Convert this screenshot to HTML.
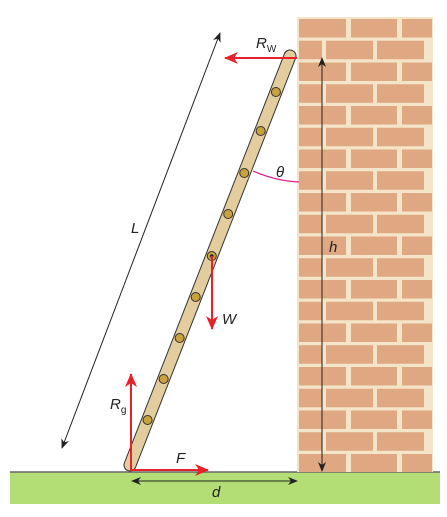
<!DOCTYPE html>
<html><head><meta charset="utf-8"><style>
html,body{margin:0;padding:0;background:#fff;}
svg{display:block;}
text{font-family:"Liberation Sans",sans-serif;font-style:italic;fill:#222;}
</style></head><body>
<svg width="447" height="517" viewBox="0 0 447 517">
<defs>
<marker id="ah" markerWidth="10" markerHeight="8" refX="9" refY="4" orient="auto" markerUnits="userSpaceOnUse"><path d="M0,0 L10,4 L0,8 L3,4 Z" fill="#222"/></marker>
<marker id="ahs" markerWidth="10" markerHeight="8" refX="1" refY="4" orient="auto" markerUnits="userSpaceOnUse"><path d="M10,0 L0,4 L10,8 L7,4 Z" fill="#222"/></marker>
<marker id="rh" markerWidth="14" markerHeight="12" refX="13" refY="6" orient="auto" markerUnits="userSpaceOnUse"><path d="M0,0 L14,6 L0,12 L4,6 Z" fill="#e8202a"/></marker>
</defs>
<g>
<rect x="10" y="472" width="430" height="32" fill="#b3de75"/>
<line x1="10" y1="472" x2="440" y2="472" stroke="#666" stroke-width="1.5"/>
</g>
<g id="wall"></g>
<g>
<line x1="130" y1="465" x2="290" y2="56" stroke="#333" stroke-width="13" stroke-linecap="round"/>
<line x1="130" y1="465" x2="290" y2="56" stroke="#e3cc9d" stroke-width="11" stroke-linecap="round"/>
<g id="rungs"></g>
</g>
<path d="M253,171 Q276,181 299,182" fill="none" stroke="#e0208a" stroke-width="1.2"/>
<line x1="220" y1="33" x2="62" y2="448" stroke="#222" stroke-width="1" marker-start="url(#ahs)" marker-end="url(#ah)"/>
<line x1="322" y1="58" x2="322" y2="471" stroke="#222" stroke-width="1" marker-start="url(#ahs)" marker-end="url(#ah)"/>
<line x1="132" y1="481" x2="297" y2="481" stroke="#222" stroke-width="1" marker-start="url(#ahs)" marker-end="url(#ah)"/>
<line x1="297" y1="58" x2="225" y2="58" stroke="#e8202a" stroke-width="2" marker-end="url(#rh)"/>
<line x1="212" y1="256" x2="212" y2="329" stroke="#e8202a" stroke-width="2" marker-end="url(#rh)"/>
<line x1="131" y1="471" x2="131" y2="374" stroke="#e8202a" stroke-width="2" marker-end="url(#rh)"/>
<line x1="131" y1="470" x2="208" y2="470" stroke="#e8202a" stroke-width="2" marker-end="url(#rh)"/>
<text x="256" y="48" font-size="15">R<tspan font-size="10" dy="4" font-style="normal">W</tspan></text>
<text x="276" y="177" font-size="15">θ</text>
<text x="131" y="233" font-size="15">L</text>
<text x="329" y="252" font-size="15">h</text>
<text x="222" y="324" font-size="15">W</text>
<text x="110" y="409" font-size="15">R<tspan font-size="10" dy="4" font-style="normal">g</tspan></text>
<text x="176" y="463" font-size="15">F</text>
<text x="212" y="497" font-size="15">d</text>
</svg>
<script>
const NS="http://www.w3.org/2000/svg";
const wall=document.getElementById('wall');
const rowA=[[299,346],[351,397],[402,432]];
const rowB=[[299,322],[326,373],[377,424]];
const bg=document.createElementNS(NS,'rect');
bg.setAttribute('x',297);bg.setAttribute('y',17);bg.setAttribute('width',136);bg.setAttribute('height',455);bg.setAttribute('fill','#f4e4c8');


wall.appendChild(bg);
for(let i=0;i<21;i++){
  const y=19+i*21.75;
  const h=Math.min(18.5,472-y);
  (i%2?rowB:rowA).forEach(b=>{
    const r=document.createElementNS(NS,'rect');
    r.setAttribute('x',b[0]);r.setAttribute('y',y);r.setAttribute('width',b[1]-b[0]);r.setAttribute('height',h);r.setAttribute('fill','#dfa882');
    
    
    wall.appendChild(r);
  });
}
const rungs=document.getElementById('rungs');
const rungY=[92,131,173,214,256,297,338,379,420];
rungY.forEach(y=>{
  const x=130+(465-y)/(465-56)*160;
  const c=document.createElementNS(NS,'circle');
  c.setAttribute('cx',x);c.setAttribute('cy',y);c.setAttribute('r',4.5);c.setAttribute('fill','#c9a23c');c.setAttribute('stroke','#333');c.setAttribute('stroke-width',1);
  
  
  rungs.appendChild(c);
  if(y===256){const d=document.createElementNS(NS,'circle');d.setAttribute('cx',x);d.setAttribute('cy',y);d.setAttribute('r',1.8);d.setAttribute('fill','#222');
  
  
  rungs.appendChild(d);}
});
</script>
</body></html>
